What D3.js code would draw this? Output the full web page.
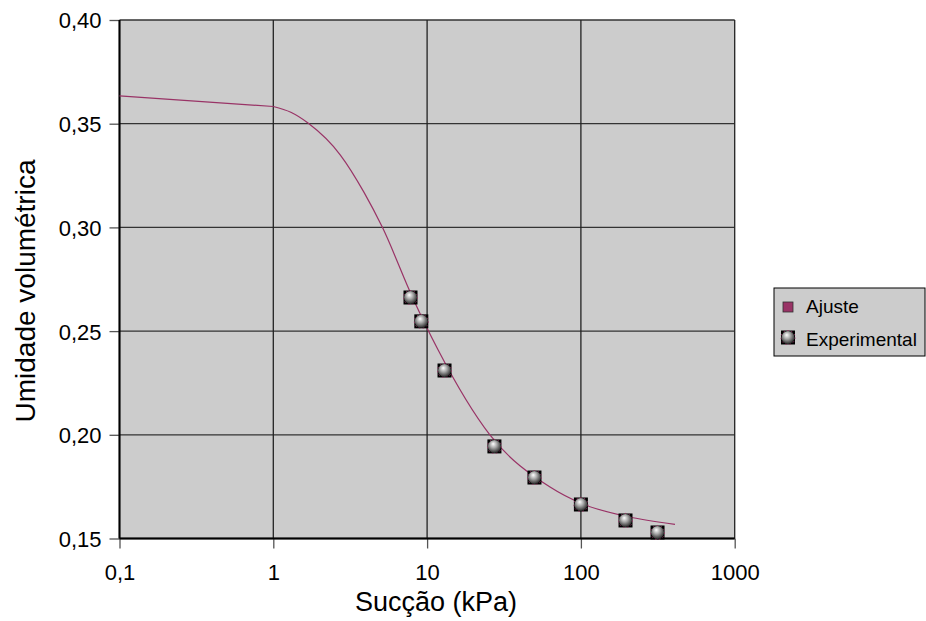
<!DOCTYPE html>
<html>
<head>
<meta charset="utf-8">
<script src="https://cdn.jsdelivr.net/npm/d3@7/dist/d3.min.js"></script>
<style>
  body { margin: 0; background: #fff; }
  svg text { font-family: "Liberation Sans", Arial, sans-serif; fill: #000; }
</style>
</head>
<body>
<div id="chart"></div>
<script>
// fitted curve (Ajuste)
const fitSuction = [0.1, 1, 1.3, 1.69, 2.73, 3.89, 5.13, 8, 11.8, 25.6, 63, 100, 200, 409];
const fitTheta = [0.3634, 0.3583, 0.3555, 0.3502, 0.3349, 0.3169, 0.2999, 0.2666, 0.2409, 0.2000, 0.1748, 0.1670, 0.1606, 0.1568];

// measured points (Experimental)
const expSuction = [7.8, 9.17, 12.98, 27.4, 49.9, 100, 195, 315];
const expTheta = [0.2662, 0.2547, 0.2310, 0.1944, 0.1794, 0.1664, 0.1587, 0.1529];

const xTicks = [0.1, 1, 10, 100, 1000];
const xTickLabels = ['0,1', '1', '10', '100', '1000'];
const yTicks = [0.15, 0.20, 0.25, 0.30, 0.35, 0.40];
const seriesNames = ['Ajuste', 'Experimental'];

const W = 926, H = 621;
const mLeft = 119.5, mTop = 20, plotW = 615.2, plotH = 518.5;
const lineColor = '#993366';

const svg = d3.select('#chart').append('svg')
    .attr('width', W)
    .attr('height', H);

const defs = svg.append('defs');
const grad = defs.append('radialGradient')
    .attr('id', 'ball')
    .attr('cx', '45%').attr('cy', '40%').attr('r', '60%')
    .attr('fx', '40%').attr('fy', '30%');
grad.append('stop').attr('offset', '0%').attr('stop-color', '#ffffff');
grad.append('stop').attr('offset', '45%').attr('stop-color', '#a8a8a8');
grad.append('stop').attr('offset', '100%').attr('stop-color', '#2a2a2a');

const x = d3.scaleLog().domain([0.1, 1000]).range([mLeft, mLeft + plotW]);
const y = d3.scaleLinear().domain([0.15, 0.40]).range([mTop + plotH, mTop]);

// plot area
svg.append('rect')
    .attr('x', mLeft).attr('y', mTop)
    .attr('width', plotW).attr('height', plotH)
    .attr('fill', '#cccccc');

// grid
svg.append('g').selectAll('line')
    .data(yTicks)
    .enter().append('line')
    .attr('x1', mLeft).attr('x2', mLeft + plotW)
    .attr('y1', d => y(d)).attr('y2', d => y(d))
    .attr('stroke', '#333').attr('stroke-width', 1.3);

svg.append('g').selectAll('line')
    .data(xTicks)
    .enter().append('line')
    .attr('x1', d => x(d)).attr('x2', d => x(d))
    .attr('y1', mTop).attr('y2', mTop + plotH)
    .attr('stroke', '#222').attr('stroke-width', 1.3);

// axes
const yAxis = d3.axisLeft(y)
    .tickValues(yTicks)
    .tickSize(10)
    .tickPadding(8)
    .tickFormat(d => d3.format('.2f')(d).replace('.', ','));

const gy = svg.append('g')
    .attr('transform', `translate(${mLeft},0)`)
    .call(yAxis);
gy.select('.domain').remove();
gy.selectAll('.tick line').attr('stroke', '#555').attr('stroke-width', 1.3);
gy.selectAll('.tick text')
    .attr('font-size', 22)
    .attr('dy', '0.36em');

const xAxis = d3.axisBottom(x)
    .tickValues(xTicks)
    .tickSize(10)
    .tickPadding(16)
    .tickFormat((d, i) => xTickLabels[i]);

const gx = svg.append('g')
    .attr('transform', `translate(0,${mTop + plotH})`)
    .call(xAxis);
gx.select('.domain').remove();
gx.selectAll('.tick line').attr('stroke', '#555').attr('stroke-width', 1.3);
gx.selectAll('.tick text').attr('font-size', 22);

// axis lines
svg.append('line')
    .attr('x1', mLeft).attr('x2', mLeft)
    .attr('y1', mTop).attr('y2', mTop + plotH)
    .attr('stroke', '#000').attr('stroke-width', 2);
svg.append('line')
    .attr('x1', mLeft).attr('x2', mLeft + plotW)
    .attr('y1', mTop + plotH).attr('y2', mTop + plotH)
    .attr('stroke', '#000').attr('stroke-width', 2);

// fitted curve: straight from 0.1 to 1, smooth after
const fit = fitSuction.map((s, i) => [s, fitTheta[i]]);
const lineLin = d3.line().x(d => x(d[0])).y(d => y(d[1]));
const lineSmooth = d3.line().x(d => x(d[0])).y(d => y(d[1])).curve(d3.curveMonotoneX);

svg.append('path')
    .attr('d', lineLin(fit.slice(0, 2)))
    .attr('fill', 'none').attr('stroke', lineColor).attr('stroke-width', 1.2);
svg.append('path')
    .attr('d', lineSmooth(fit.slice(1)))
    .attr('fill', 'none').attr('stroke', lineColor).attr('stroke-width', 1.2);

// experimental markers
function drawBall(g) {
    g.append('rect')
        .attr('x', -7).attr('y', -7).attr('width', 14).attr('height', 14)
        .attr('fill', '#000');
    g.append('circle')
        .attr('r', 7)
        .attr('fill', 'none')
        .attr('stroke', lineColor)
        .attr('stroke-width', 1)
        .attr('stroke-dasharray', '1.5,2.5');
    g.append('circle')
        .attr('r', 6.5)
        .attr('fill', 'url(#ball)');
}

const exp = expSuction.map((s, i) => [s, expTheta[i]]);
svg.append('g').selectAll('g')
    .data(exp)
    .enter().append('g')
    .attr('transform', d => `translate(${x(d[0])},${y(d[1])})`)
    .each(function () { drawBall(d3.select(this)); });

// axis titles
svg.append('text')
    .attr('x', 436).attr('y', 611)
    .attr('text-anchor', 'middle')
    .attr('font-size', 27)
    .text('Sucção (kPa)');

svg.append('text')
    .attr('transform', 'translate(35,291) rotate(-90)')
    .attr('text-anchor', 'middle')
    .attr('font-size', 28)
    .text('Umidade volumétrica');

// legend
const lg = svg.append('g');
lg.append('rect')
    .attr('x', 774).attr('y', 288)
    .attr('width', 151).attr('height', 68)
    .attr('fill', '#cccccc')
    .attr('stroke', '#000').attr('stroke-width', 1);

lg.append('rect')
    .attr('x', 783).attr('y', 302).attr('width', 10).attr('height', 10)
    .attr('fill', lineColor).attr('stroke', '#333').attr('stroke-width', 0.8);
lg.append('text')
    .attr('x', 806).attr('y', 312.5)
    .attr('font-size', 19)
    .text(seriesNames[0]);

const lb = lg.append('g').attr('transform', 'translate(788,337.5)');
drawBall(lb);
lg.append('text')
    .attr('x', 806).attr('y', 345.5)
    .attr('font-size', 19)
    .text(seriesNames[1]);
</script>
</body>
</html>
